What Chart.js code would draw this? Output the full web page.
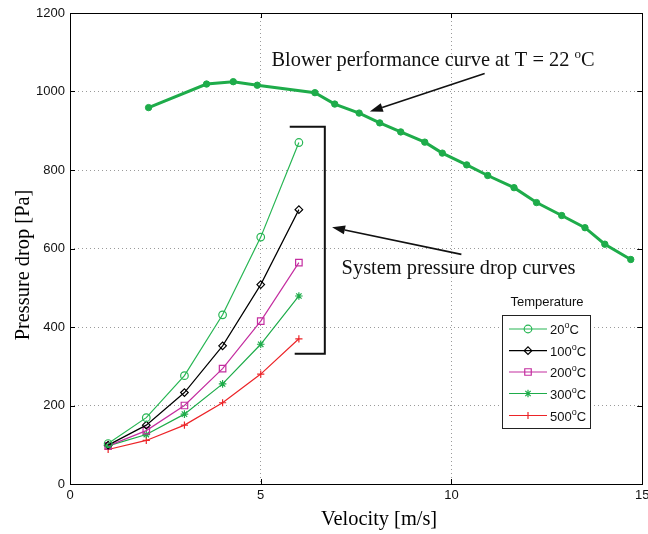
<!DOCTYPE html>
<html>
<head>
<meta charset="utf-8">
<script src="https://cdn.jsdelivr.net/npm/chart.js@4/dist/chart.umd.min.js"></script>
<style>
  html, body { margin: 0; padding: 0; background: #fff; }
  #wrap { width: 648px; height: 534px; }
</style>
</head>
<body>
<div id="wrap"><canvas id="c" width="648" height="534"></canvas></div>
<script>
// ---- data ----
const velocity = [1, 2, 3, 4, 5, 6];
const temperatures = [20, 100, 200, 300, 500];
const drop20 = [103, 169, 276, 431, 629, 870];
const drop100 = [99, 150, 233, 352, 508, 699];
const drop200 = [97, 136, 200, 294, 415, 564];
const drop300 = [97, 126, 178, 255, 356, 479];
const drop500 = [88, 111, 150, 207, 280, 370];

const blowerVelocity = [2.06, 3.58, 4.28, 4.91, 6.42, 6.94, 7.58, 8.12, 8.67, 9.30,
                        9.76, 10.40, 10.95, 11.64, 12.23, 12.89, 13.50, 14.02, 14.70];
const blowerPressure = [959, 1019, 1025, 1016, 997, 968, 945, 920, 897, 871,
                        843, 813, 786, 755, 717, 684, 653, 611, 572];

const xTicks = [0, 5, 10, 15];
const yTicks = [0, 200, 400, 600, 800, 1000, 1200];

const SANS = '"Liberation Sans", Arial, sans-serif';
const SERIF = '"Liberation Serif", "Times New Roman", serif';

const GREEN = 'rgb(30,172,74)';
const GREEN_LIGHT = 'rgb(40,182,84)';
const BLACK = '#000000';
const MAGENTA = 'rgb(196,46,160)';
const RED = 'rgb(236,36,40)';

const pts = (xs, ys) => xs.map((x, i) => ({ x: x, y: ys[i] }));

// series styling for the temperature curves
const systemSeries = [
  { values: drop20,  color: GREEN_LIGHT, style: 'circle',  radius: 3.8 },
  { values: drop100, color: BLACK,       style: 'rectRot', radius: 3.8 },
  { values: drop200, color: MAGENTA,     style: 'rect',    radius: 4.6 },
  { values: drop300, color: GREEN,       style: 'star',    radius: 3.8 },
  { values: drop500, color: RED,         style: 'cross',   radius: 3.6 }
];

const datasets = [{
  label: 'Blower performance curve at T = 22 °C',
  data: pts(blowerVelocity, blowerPressure),
  showLine: true,
  borderColor: GREEN,
  backgroundColor: GREEN,
  borderWidth: 3,
  pointStyle: 'circle',
  pointRadius: 3.2,
  pointBackgroundColor: GREEN,
  pointBorderColor: GREEN,
  pointBorderWidth: 1
}];

systemSeries.forEach((s, i) => {
  datasets.push({
    label: temperatures[i] + '°C',
    data: pts(velocity, s.values),
    showLine: true,
    borderColor: s.color,
    backgroundColor: 'rgba(0,0,0,0)',
    borderWidth: 1.2,
    pointStyle: s.style,
    pointRadius: s.radius,
    pointBackgroundColor: 'rgba(0,0,0,0)',
    pointBorderColor: s.color,
    pointBorderWidth: 1.2
  });
});

// annotations placed in data units
const notes = {
  blowerText: { x: 5.28, y: 1065 },
  blowerArrow: { from: { x: 10.87, y: 1046 }, to: { x: 7.86, y: 949 } },
  systemText: { x: 7.12, y: 536 },
  systemArrow: { from: { x: 10.26, y: 585 }, to: { x: 6.87, y: 654 } },
  bracket: { x: 6.68, xTop: 5.76, xBottom: 5.89, yTop: 910, yBottom: 332 }
};

// draw text runs where some pieces are superscripts
function drawRuns(ctx, runs, x, y, align) {
  let total = 0;
  runs.forEach(r => { ctx.font = r.font; total += ctx.measureText(r.t).width; });
  let cx = align === 'center' ? x - total / 2 : x;
  ctx.textAlign = 'left';
  ctx.textBaseline = 'alphabetic';
  runs.forEach(r => {
    ctx.font = r.font;
    ctx.fillText(r.t, cx, y - (r.rise || 0));
    cx += ctx.measureText(r.t).width;
  });
}

function drawMarker(ctx, style, r, x, y) {
  ctx.beginPath();
  if (style === 'circle') {
    ctx.arc(x, y, r, 0, Math.PI * 2);
  } else if (style === 'rectRot') {
    ctx.moveTo(x - r, y); ctx.lineTo(x, y - r); ctx.lineTo(x + r, y); ctx.lineTo(x, y + r); ctx.closePath();
  } else if (style === 'rect') {
    const s = Math.SQRT1_2 * r;
    ctx.rect(x - s, y - s, 2 * s, 2 * s);
  } else if (style === 'star' || style === 'cross') {
    ctx.moveTo(x, y - r); ctx.lineTo(x, y + r);
    ctx.moveTo(x - r, y); ctx.lineTo(x + r, y);
    if (style === 'star') {
      const d = Math.SQRT1_2 * r;
      ctx.moveTo(x - d, y - d); ctx.lineTo(x + d, y + d);
      ctx.moveTo(x + d, y - d); ctx.lineTo(x - d, y + d);
    }
  }
  ctx.stroke();
}

function arrow(ctx, x1, y1, x2, y2) {
  const ang = Math.atan2(y2 - y1, x2 - x1);
  const len = 13, half = 4.5;
  const bx = x2 - Math.cos(ang) * len, by = y2 - Math.sin(ang) * len;
  ctx.lineWidth = 1.6;
  ctx.strokeStyle = '#111';
  ctx.fillStyle = '#111';
  ctx.beginPath();
  ctx.moveTo(x1, y1); ctx.lineTo(bx, by);
  ctx.stroke();
  ctx.beginPath();
  ctx.moveTo(x2, y2);
  ctx.lineTo(bx + Math.sin(ang) * half, by - Math.cos(ang) * half);
  ctx.lineTo(bx - Math.sin(ang) * half, by + Math.cos(ang) * half);
  ctx.closePath();
  ctx.fill();
}

const decorations = {
  id: 'decorations',
  afterDatasetsDraw(chart) {
    const ctx = chart.ctx;
    const xs = chart.scales.x, ys = chart.scales.y;
    const a = chart.chartArea;
    const X = v => xs.getPixelForValue(v), Y = v => ys.getPixelForValue(v);
    ctx.save();

    // axes box and inward ticks
    ctx.strokeStyle = '#000';
    ctx.lineWidth = 1;
    ctx.strokeRect(Math.round(a.left) + 0.5, Math.round(a.top) + 0.5,
                   Math.round(a.right - a.left), Math.round(a.bottom - a.top));
    const tl = 5;
    ctx.beginPath();
    xTicks.forEach(v => {
      const px = Math.round(X(v)) + 0.5;
      ctx.moveTo(px, a.bottom); ctx.lineTo(px, a.bottom - tl);
      ctx.moveTo(px, a.top); ctx.lineTo(px, a.top + tl);
    });
    yTicks.forEach(v => {
      const py = Math.round(Y(v)) + 0.5;
      ctx.moveTo(a.left, py); ctx.lineTo(a.left + tl, py);
      ctx.moveTo(a.right, py); ctx.lineTo(a.right - tl, py);
    });
    ctx.stroke();

    // bracket around the system curves
    const b = notes.bracket;
    ctx.lineWidth = 2;
    ctx.strokeStyle = '#111';
    ctx.beginPath();
    ctx.moveTo(X(b.xTop), Y(b.yTop));
    ctx.lineTo(X(b.x), Y(b.yTop));
    ctx.lineTo(X(b.x), Y(b.yBottom));
    ctx.lineTo(X(b.xBottom), Y(b.yBottom));
    ctx.stroke();

    // arrows
    const ba = notes.blowerArrow, sa = notes.systemArrow;
    arrow(ctx, X(ba.from.x), Y(ba.from.y), X(ba.to.x), Y(ba.to.y));
    arrow(ctx, X(sa.from.x), Y(sa.from.y), X(sa.to.x), Y(sa.to.y));

    // annotation texts
    ctx.fillStyle = '#111';
    const big = '20.4px ' + SERIF, sup = '13px ' + SERIF;
    drawRuns(ctx, [
      { t: 'Blower performance curve at T = 22 ', font: big },
      { t: 'o', font: sup, rise: 8 },
      { t: 'C', font: big }
    ], X(notes.blowerText.x), Y(notes.blowerText.y), 'left');
    drawRuns(ctx, [{ t: 'System pressure drop curves', font: big }],
             X(notes.systemText.x), Y(notes.systemText.y), 'left');

    // axis titles
    ctx.fillStyle = '#000';
    drawRuns(ctx, [{ t: 'Velocity [m/s]', font: big }], (a.left + a.right) / 2 + 23, 525, 'center');
    ctx.save();
    ctx.translate(28.5, 265);
    ctx.rotate(-Math.PI / 2);
    drawRuns(ctx, [{ t: 'Pressure drop [Pa]', font: big }], 0, 0, 'center');
    ctx.restore();

    // legend
    const lx = 502, ly = 315, lw = 88, lh = 113;
    ctx.fillStyle = '#fff';
    ctx.fillRect(lx, ly, lw, lh);
    ctx.lineWidth = 1;
    ctx.strokeStyle = '#222';
    ctx.strokeRect(lx + 0.5, ly + 0.5, lw, lh);
    ctx.fillStyle = '#111';
    ctx.font = '13px ' + SANS;
    ctx.textAlign = 'center';
    ctx.textBaseline = 'middle';
    ctx.fillText('Temperature', 547, 302);
    const rowY = [329, 350.7, 372, 393.5, 415.5];
    systemSeries.forEach((s, i) => {
      const y = rowY[i];
      ctx.strokeStyle = s.color;
      ctx.lineWidth = 1.2;
      ctx.beginPath();
      ctx.moveTo(509, y); ctx.lineTo(547, y);
      ctx.stroke();
      drawMarker(ctx, s.style, s.radius, 528, y);
      ctx.fillStyle = '#111';
      drawRuns(ctx, [
        { t: String(temperatures[i]), font: '13px ' + SANS },
        { t: 'o', font: '9px ' + SANS, rise: 6 },
        { t: 'C', font: '13px ' + SANS }
      ], 550, y + 5, 'left');
    });

    ctx.restore();
  }
};

new Chart(document.getElementById('c'), {
  type: 'scatter',
  data: { datasets: datasets },
  plugins: [decorations],
  options: {
    responsive: false,
    animation: false,
    devicePixelRatio: 1,
    layout: { padding: { top: 13, right: 5, left: 0, bottom: 0 } },
    plugins: { legend: { display: false }, tooltip: { enabled: false } },
    scales: {
      x: {
        type: 'linear', min: 0, max: 15,
        afterBuildTicks(s) { s.ticks = xTicks.map(v => ({ value: v })); },
        ticks: { color: '#111', font: { family: SANS, size: 13 }, padding: 4, maxRotation: 0, autoSkip: false,
                 callback: v => String(v) },
        grid: { color: '#9a9a9a', lineWidth: 1, drawTicks: false },
        border: { display: false, dash: [1, 3] },
        afterFit(s) { s.height = 50; s.paddingLeft = 0; s.paddingRight = 0; }
      },
      y: {
        type: 'linear', min: 0, max: 1200,
        afterBuildTicks(s) { s.ticks = yTicks.map(v => ({ value: v })); },
        ticks: { color: '#111', font: { family: SANS, size: 13 }, padding: 5, autoSkip: false,
                 callback: v => String(v) },
        grid: { color: '#9a9a9a', lineWidth: 1, drawTicks: false },
        border: { display: false, dash: [1, 3] },
        afterFit(s) { s.width = 70; s.paddingTop = 0; s.paddingBottom = 0; }
      }
    }
  }
});
</script>
</body>
</html>
